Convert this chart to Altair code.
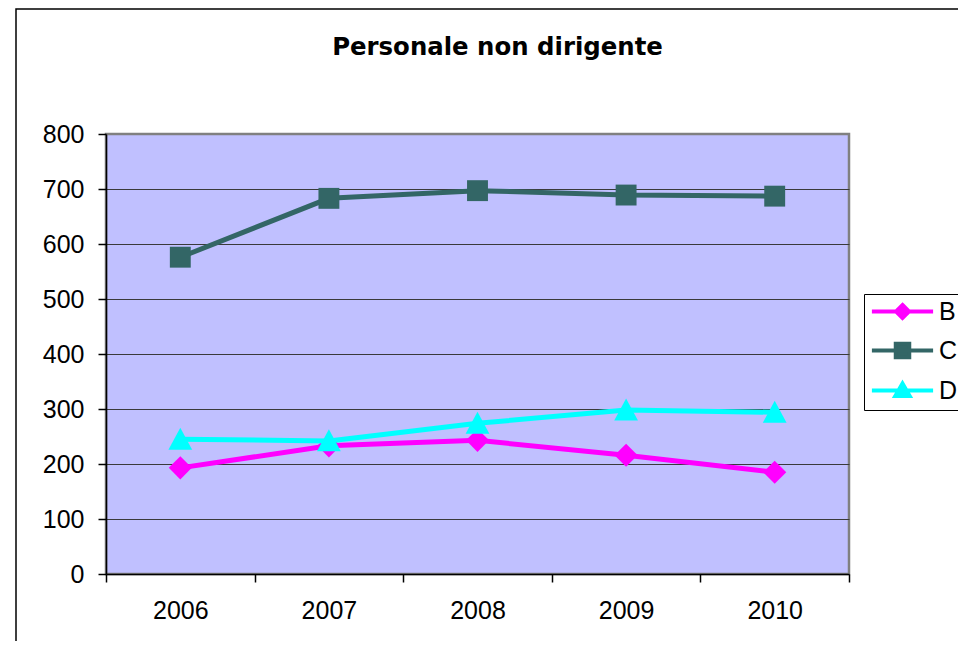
import altair as alt
import pandas as pd

# ---- data ----
years = ["2006", "2007", "2008", "2009", "2010"]
series_names = ["B", "C", "D"]
b_values = [193, 233, 243, 216, 185]
c_values = [576, 683, 697, 689, 687]
d_values = [245, 242, 274, 298, 294]
series_colors = ["#FF00FF", "#336666", "#00FFFF"]
y_ticks = [0, 100, 200, 300, 400, 500, 600, 700, 800]
title_text = "Personale non dirigente"

rows = []
for name, vals in zip(series_names, [b_values, c_values, d_values]):
    for yr, v in zip(years, vals):
        rows.append({"year": yr, "series": name, "value": v})
df = pd.DataFrame(rows)

# marker shapes in the plot (custom paths, scaled by sqrt(size)/2)
plot_shapes = [
    "M0,-1.05L1.05,0L0,1.05L-1.05,0Z",          # diamond
    "M-0.95,-0.95H0.95V0.95H-0.95Z",            # square
    "M0,-1.05L1.08,0.95L-1.08,0.95Z",           # triangle
]
# legend symbols: line segment + marker
legend_shapes = [
    "M-3.4,0H3.4M0,-0.72L0.72,0L0,0.72L-0.72,0Z",
    "M-3.4,0H3.4M-0.75,-0.75H0.75V0.75H-0.75Z",
    "M-3.4,0H3.4M0,-0.78L0.8,0.62L-0.8,0.62Z",
]

def pick(values):
    expr = "'" + values[-1] + "'"
    for n, v in reversed(list(zip(series_names[:-1], values[:-1]))):
        expr = "datum.value === '" + n + "' ? '" + v + "' : " + expr
    return expr

legend = alt.Legend(
    title=None, orient="none", legendX=758, legendY=160, direction="vertical",
    labelFont="Liberation Sans", labelFontSize=25, labelColor="black",
    symbolSize=324, symbolStrokeWidth=4, symbolOffset=21, labelOffset=24,
    rowPadding=9, padding=5, strokeColor="black", fillColor="white",
    symbolType={"expr": pick(legend_shapes)},
    symbolFillColor={"expr": pick(series_colors)},
    symbolStrokeColor={"expr": pick(series_colors)},
    symbolOpacity=1,
)

color = alt.Color("series:N",
                  scale=alt.Scale(domain=series_names, range=series_colors),
                  legend=legend)

x = alt.X("year:O",
          scale=alt.Scale(type="band", domain=years, paddingInner=0, paddingOuter=0),
          axis=alt.Axis(title=None, labelAngle=0, tickBand="extent", grid=False,
                        labelFont="Liberation Sans", labelFontSize=25, labelColor="black",
                        labelPadding=16, tickSize=8, tickColor="black", tickWidth=1.5,
                        domainColor="black", domainWidth=1.5))
y = alt.Y("value:Q",
          scale=alt.Scale(domain=[0, 800], nice=False, zero=True),
          axis=alt.Axis(title=None, values=y_ticks, grid=True,
                        gridColor="#3a3a3a", gridWidth=1,
                        gridOpacity={"condition": {"test": "datum.value === 800 || datum.value === 0", "value": 0}, "value": 1},
                        labelFont="Liberation Sans", labelFontSize=25, labelColor="black",
                        labelPadding=14, tickSize=8, tickColor="black", tickWidth=1.5,
                        domainColor="black", domainWidth=1.5))

frame = alt.Chart(alt.Data(values=[{}])).mark_rect(
    fill="transparent", stroke="black", strokeWidth=1.5
).encode(x=alt.value(-90), x2=alt.value(900), y=alt.value(-125), y2=alt.value(600))

layers = [frame]
for name, shp in zip(series_names, plot_shapes):
    base = alt.Chart(df).transform_filter(alt.datum.series == name)
    layers.append(base.mark_line(strokeWidth=5).encode(x=x, y=y, color=color))
    layers.append(base.mark_point(shape=shp, size=484, filled=True, opacity=1, strokeWidth=0)
                  .encode(x=x, y=y, color=color))

chart = alt.layer(*layers).properties(
    width=743, height=440,
    background="white",
    title=alt.Title(title_text, font="DejaVu Sans", fontSize=24.4, fontWeight="bold",
                    color="black", anchor="middle", frame="group", dx=20,
                    baseline="alphabetic", offset=0, dy=71),
    autosize=alt.AutoSizeParams(type="none"),
    padding={"left": 98, "top": 126, "right": 109, "bottom": 67},
).configure_view(fill="#C0C0FF", stroke="#808080", strokeWidth=2.5)

chart.save("out.html", embed_options={"renderer": "svg", "actions": False})
